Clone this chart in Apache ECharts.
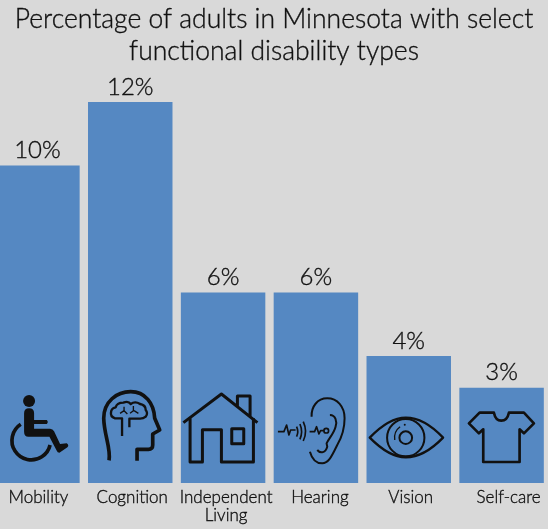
<!DOCTYPE html>
<html>
<head>
<meta charset="utf-8">
<style>
  html, body { margin: 0; padding: 0; background: #d9d9d9; }
  #chart { width: 548px; height: 529px; }
</style>
</head>
<body>
<div id="chart"></div>
<script src="https://cdn.jsdelivr.net/npm/echarts@6/dist/echarts.min.js"></script>
<script>
const titleText = 'Percentage of adults in Minnesota with select\nfunctional disability types';
const categories = ['Mobility', 'Cognition', 'Independent\nLiving', 'Hearing', 'Vision', 'Self-care'];
const percentages = [10, 12, 6, 6, 4, 3];
const labelLeftPad = [2, 4, 6, 8, 4, 14]; // labels sit a little right of the bar centre

const fontName = 'Lato';
const inkColor = '#111111';

// shared text settings, the thin border thickens Lato Light a bit
const inkText = {
    fontFamily: fontName,
    fontWeight: 300,
    color: inkColor,
    textBorderColor: inkColor,
    textBorderWidth: 0.35
};

// icons are traced at 3x, (refX, 309) is the foot of the bar centre
const icons = [
    {
        refX: 112,
        parts: [
            { d: 'M69,63a18,18 0 1,0 36,0a18,18 0 1,0 -36,0', fill: true },
            { d: 'M72,100 Q72,85 87,85 Q102,85 102,100 L102,120 L140,120 Q146,126 140,132 L102,132 L102,146 L150,146 Q158,146 162,154 L180,192 L200,190 Q208,196 202,202 L178,218 Q172,218 170,212 L148,170 L85,170 Q72,170 72,155 Z', fill: true },
            { d: 'M62,133 A58,58 0 1 0 150,195', width: 11 }
        ]
    },
    {
        refX: 390.6,
        parts: [
            { d: 'M327,241 C333,205 312,165 311,115 C311,65 350,35 392,35 C435,35 462,70 464,115 L479,150 L458,162 L458,195 Q458,208 445,208 L411,208 L411,242', width: 11 },
            { d: 'M366,168 L366,115 L345,115 Q330,110 333,97 Q333,85 347,82 Q350,68 370,68 Q385,62 392,72 Q405,62 420,72 Q437,75 437,90 Q445,100 437,110 Q430,116 420,116 L388,116 L388,142', width: 7 },
            { d: 'M372,80 L372,92 L360,100 M372,92 L382,102 M400,78 L400,92 L390,100 M402,92 L415,100', width: 4 }
        ]
    },
    {
        refX: 669,
        parts: [
            { d: 'M550,128 L664,42 L772,128 M712,82 L712,48 L750,48 L750,108', width: 9 },
            { d: 'M570,115 L570,246 L607,246 L607,149 L664,149 L664,246 L760,246 L760,115', width: 9 },
            { d: 'M695,146 H731 V191 H695 Z', width: 9 }
        ]
    },
    {
        refX: 126,
        parts: [
            { d: 'M108,215 C115,240 130,250 145,250 C165,250 175,225 190,195 C205,170 212,145 212,115 C212,80 190,55 160,55 C130,55 112,80 113,110', width: 6 },
            { d: 'M168,105 C185,105 190,125 185,140 C180,160 165,175 158,190 L160,200 C155,218 140,222 130,210', width: 6 },
            { d: 'M12,155 L30,155 L38,135 L45,165 L50,150 L65,150 M68,140 Q75,155 68,170 M78,132 Q88,155 78,178 M88,125 Q102,155 88,183', width: 5 },
            { d: 'M107,155 L122,155 L128,140 L135,162 L140,152 L150,152 M164,152 a7,7 0 1,0 -14,0 a7,7 0 1,0 14,0', width: 5 }
        ]
    },
    {
        refX: 404,
        parts: [
            { d: 'M287,173 Q345,113 395,113 Q450,113 507,173 Q450,232 395,232 Q345,232 287,173 Z', width: 7 },
            { d: 'M451,173 a56,56 0 1,0 -112,0 a56,56 0 1,0 112,0', width: 6 },
            { d: 'M414,173 a19,19 0 1,0 -38,0 a19,19 0 1,0 38,0', width: 6 },
            { d: 'M362,180 Q358,155 378,140', width: 4 },
            { d: 'M389,134 a3,3 0 1,0 6,0 a3,3 0 1,0 -6,0', fill: true }
        ]
    },
    {
        refX: 683,
        parts: [
            { d: 'M660,98 Q665,122 682,122 Q700,122 705,98 L750,98 L780,130 L750,160 L737,148 L737,246 L628,246 L628,148 L615,160 L585,130 L617,98 Z', width: 8 }
        ]
    }
];

function renderIcon(params, api) {
    const foot = api.coord([api.value(0), 0]);
    const icon = icons[params.dataIndex];
    return {
        type: 'group',
        x: foot[0],
        y: foot[1],
        scaleX: 1 / 3,
        scaleY: 1 / 3,
        children: icon.parts.map(part => ({
            type: 'path',
            x: -icon.refX,
            y: -309,
            shape: { pathData: part.d },
            style: part.fill
                ? { fill: inkColor, stroke: null }
                : { fill: null, stroke: inkColor, lineWidth: part.width, lineJoin: 'round', lineCap: 'butt' }
        }))
    };
}

const chart = echarts.init(document.getElementById('chart'));

chart.setOption({
    animation: false,
    backgroundColor: '#d9d9d9',
    title: {
        text: titleText,
        left: 'center',
        top: 3,
        padding: 0,
        textStyle: {
            ...inkText,
            fontSize: 26.5,
            lineHeight: 32
        }
    },
    grid: { left: -9, width: 557, top: 102, bottom: 46, outerBoundsMode: 'none' },
    xAxis: {
        type: 'category',
        data: categories.map((name, i) => ({
            value: name,
            textStyle: { padding: [0, 0, 0, labelLeftPad[i]] }
        })),
        axisLine: { show: false },
        axisTick: { show: false },
        axisLabel: {
            ...inkText,
            interval: 0,
            margin: 6,
            fontSize: 17,
            lineHeight: 18
        }
    },
    yAxis: {
        type: 'value',
        min: 0,
        max: 12,
        show: false
    },
    series: [
        {
            type: 'bar',
            data: percentages,
            barWidth: '91%',
            itemStyle: { color: '#5588c2' },
            label: {
                ...inkText,
                show: true,
                position: 'top',
                distance: 3,
                formatter: '{c}%',
                fontSize: 24
            }
        },
        {
            type: 'custom',
            renderItem: renderIcon,
            data: categories.map((name, i) => [i]),
            silent: true,
            z: 5
        }
    ]
});
</script>
</body>
</html>
